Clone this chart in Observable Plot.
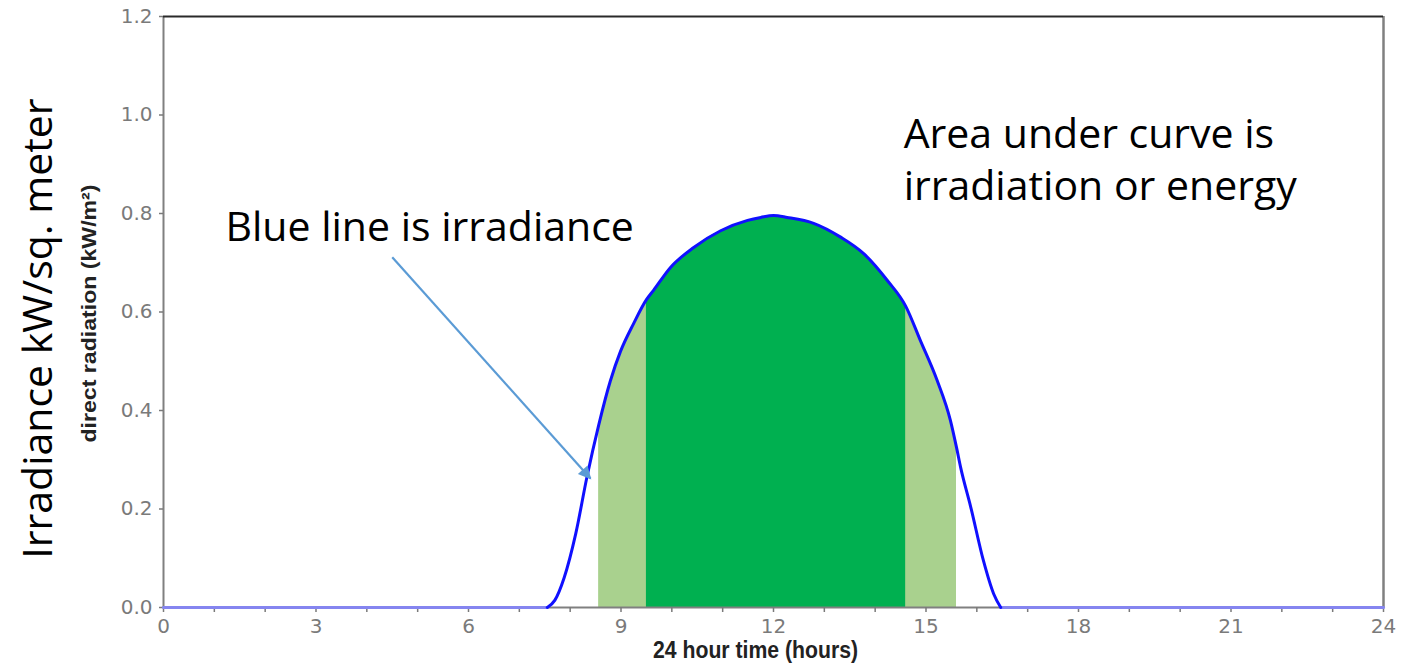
<!DOCTYPE html>
<html><head><meta charset="utf-8">
<script src="https://cdn.jsdelivr.net/npm/d3@7"></script>
<script src="https://cdn.jsdelivr.net/npm/@observablehq/plot@0.6"></script>
<style>
html,body{margin:0;padding:0;background:#fff;}
#chart{width:1405px;height:665px;overflow:hidden;}
</style></head><body><div id="chart"></div>
<script>
// ---- data ----
const curveHours  = [0, 7.55, 7.7, 7.88, 8.11, 8.33, 8.56, 8.79, 8.99, 9.25, 9.5, 9.64, 9.97, 10.43, 10.96, 11.49, 11.75, 12.0, 12.27, 12.79, 13.32, 13.78, 14.24, 14.6, 14.89, 15.22, 15.48, 15.6, 15.68, 15.88, 16.13, 16.33, 16.47, 24];
const curveValues = [0, 0, 0.015, 0.06, 0.15, 0.265, 0.37, 0.46, 0.52, 0.577, 0.625, 0.644, 0.69, 0.731, 0.765, 0.786, 0.792, 0.796, 0.792, 0.78, 0.752, 0.718, 0.664, 0.612, 0.542, 0.461, 0.38, 0.325, 0.285, 0.204, 0.095, 0.028, 0, 0];

const bandNames  = ["light", "dark"];
const bandStarts = [8.56, 9.5];
const bandEnds   = [15.6, 14.6];
const bandColors = ["#a9d18e", "#00b050"];

const xTicks = d3.range(0, 25);
const xTickLabels = [0, 3, 6, 9, 12, 15, 18, 21, 24];
const yTicks = [0, 0.2, 0.4, 0.6, 0.8, 1.0, 1.2];
const yTickLabels = ["0.0", "0.2", "0.4", "0.6", "0.8", "1.0", "1.2"];

const xLabel = "24 hour time (hours)";
const yLabelSmall = "direct radiation (kW/m²)";
const yLabelBig = "Irradiance kW/sq. meter";

const noteTexts = ["Blue line is irradiance", "Area under curve is\nirradiation or energy"];
const noteHours = [1.22, 14.56];
const noteValues = [0.82, 1.009];

const arrowFrom = [4.5, 0.711];
const arrowTo = [8.4, 0.262];

// ---- build tables ----
const curve = curveHours.map((h, i) => ({h, v: curveValues[i]}));
const riseIdx = curve.findIndex(d => d.v > 0);
let fallIdx = curve.length - 1;
while (curve[fallIdx].v === 0) fallIdx--;
const flatLeft = curve.slice(0, riseIdx);
const flatRight = curve.slice(fallIdx + 1);
const hump = curve.slice(riseIdx - 1, fallIdx + 2);
const bands = bandNames.map((n, i) => curve.filter(d => d.h >= bandStarts[i] && d.h <= bandEnds[i]));
const notes = noteTexts.map((t, i) => ({t, h: noteHours[i], v: noteValues[i]}));

const gray = "#808080";
const plot = Plot.plot({
  width: 1405, height: 665,
  marginLeft: 163, marginRight: 22, marginTop: 16, marginBottom: 58,
  x: {domain: [0, 24]},
  y: {domain: [0, 1.2]},
  style: {fontFamily: "DejaVu Sans", background: "#fff"},
  marks: [
    Plot.areaY(bands[0], {x: "h", y: "v", fill: bandColors[0], curve: "monotone-x"}),
    Plot.areaY(bands[1], {x: "h", y: "v", fill: bandColors[1], curve: "monotone-x"}),
    Plot.ruleX([0], {stroke: gray, strokeWidth: 2}),
    Plot.ruleX([24], {stroke: gray, strokeWidth: 2.5}),
    Plot.ruleY([0], {stroke: gray, strokeWidth: 2}),
    Plot.ruleY([1.2], {stroke: "#2a2a2a", strokeWidth: 2}),
    Plot.axisX({ticks: xTicks, tickSize: 5, tickPadding: 6, tickFormat: d => xTickLabels.includes(d) ? String(d) : "",
      color: "#7a7a7a", fontSize: 20, fontFamily: "DejaVu Sans", label: null, strokeWidth: 1.5}),
    Plot.axisY({ticks: yTicks, tickSize: 4, tickPadding: 7, tickFormat: d => yTickLabels[yTicks.indexOf(d)],
      color: "#7a7a7a", fontSize: 20, fontFamily: "DejaVu Sans", label: null, strokeWidth: 1.5}),
    Plot.lineY(flatLeft, {x: "h", y: "v", stroke: "#8585f0", strokeWidth: 3}),
    Plot.lineY(flatRight, {x: "h", y: "v", stroke: "#8585f0", strokeWidth: 3}),
    Plot.lineY(hump, {x: "h", y: "v", stroke: "#1010ff", strokeWidth: 3, curve: "monotone-x"}),
    Plot.link([{a: arrowFrom, b: arrowTo}], {x1: d => d.a[0], y1: d => d.a[1], x2: d => d.b[0], y2: d => d.b[1],
      stroke: "#5b9bd5", strokeWidth: 2.2}),
    Plot.text(notes, {x: "h", y: "v", text: "t", textAnchor: "start", lineAnchor: "top", lineHeight: 1.27,
      fontSize: 41, fontFamily: "Open Sans", fill: "#000"}),
    Plot.text([yLabelBig], {text: d => d, frameAnchor: "left", textAnchor: "middle", rotate: -90, dx: -141, dy: 16.5, lineAnchor: "top",
      fontSize: 41, fontFamily: "Open Sans", fill: "#000"}),
    Plot.text([yLabelSmall], {text: d => d, frameAnchor: "left", textAnchor: "middle", rotate: -90, dx: -82, dy: 1.5, lineAnchor: "top",
      fontSize: 21, fontWeight: "bold", fontFamily: "Liberation Sans", fill: "#222"}),
    Plot.text([xLabel], {text: d => d, frameAnchor: "bottom", textAnchor: "middle", dx: -18, dy: 34, lineAnchor: "top",
      fontSize: 23, fontWeight: "bold", fontFamily: "Liberation Sans", fill: "#222"})
  ]
});
document.getElementById("chart").appendChild(plot);

// arrowhead + condensed label widths
const svg = d3.select(plot);
const defs = svg.insert("defs", ":first-child");
defs.append("marker").attr("id", "ah").attr("viewBox", "0 0 10 10").attr("refX", 9).attr("refY", 5)
  .attr("markerUnits", "userSpaceOnUse").attr("markerWidth", 17).attr("markerHeight", 13).attr("orient", "auto")
  .append("path").attr("d", "M0,0L10,5L0,10z").attr("fill", "#5b9bd5");
svg.selectAll('g[aria-label="link"] path').attr("marker-end", "url(#ah)");
svg.selectAll("text").filter(function () { return this.textContent === yLabelSmall; })
  .attr("textLength", 258).attr("lengthAdjust", "spacingAndGlyphs");
svg.selectAll("text").filter(function () { return this.textContent === xLabel; })
  .attr("textLength", 205).attr("lengthAdjust", "spacingAndGlyphs");
</script>
</body></html>
